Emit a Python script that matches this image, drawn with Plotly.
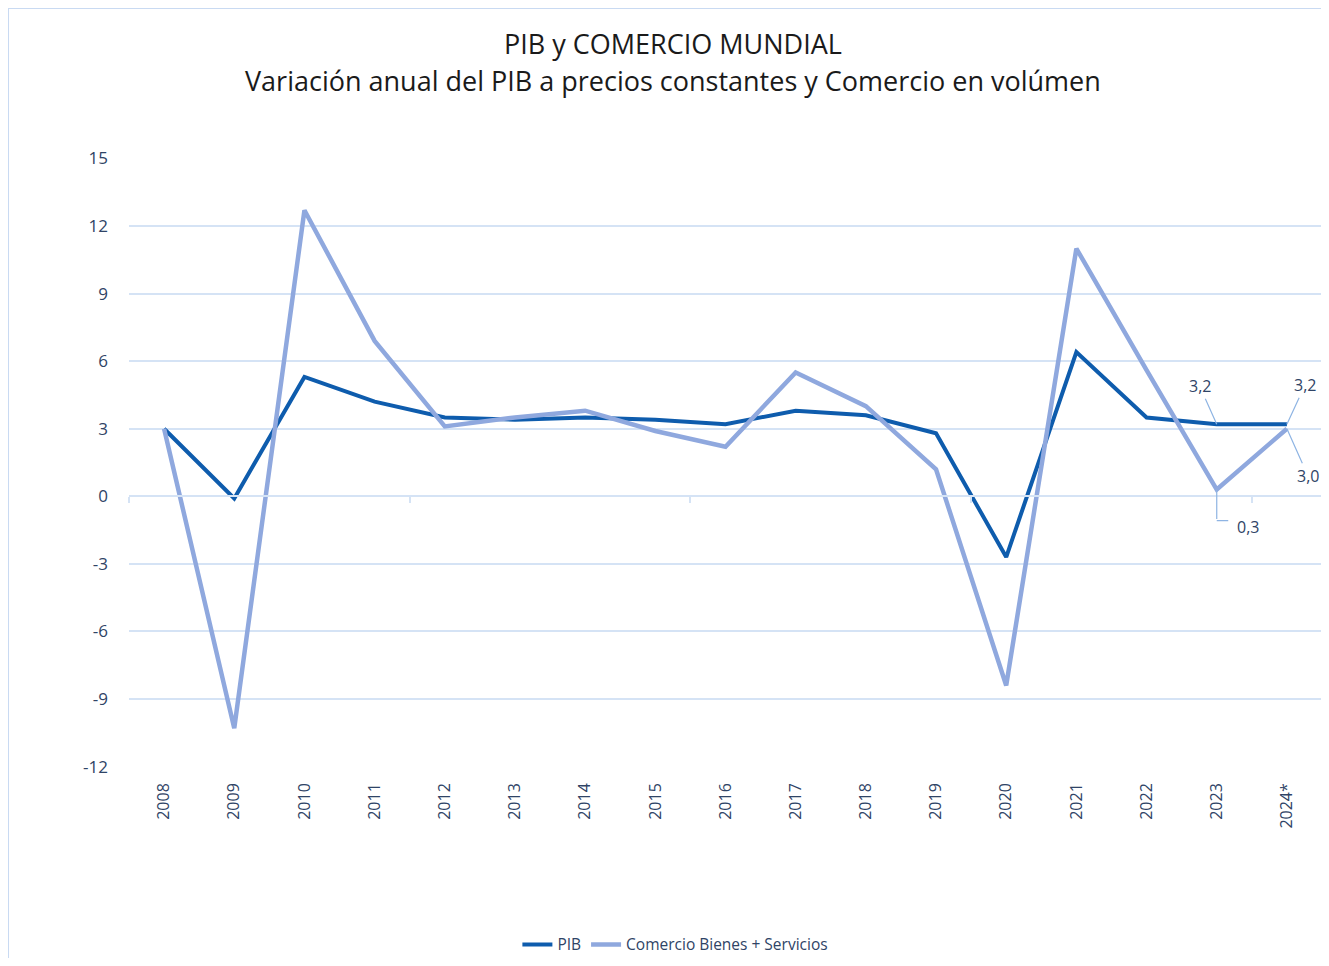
import plotly.graph_objects as go

years = ["2008", "2009", "2010", "2011", "2012", "2013", "2014", "2015", "2016",
         "2017", "2018", "2019", "2020", "2021", "2022", "2023", "2024*"]
pib = [3.0, -0.1, 5.3, 4.2, 3.5, 3.4, 3.5, 3.4, 3.2, 3.8, 3.6, 2.8, -2.7, 6.4, 3.5, 3.2, 3.2]
comercio = [3.0, -10.3, 12.7, 6.9, 3.1, 3.5, 3.8, 2.9, 2.2, 5.5, 4.0, 1.2, -8.4, 11.0, 5.6, 0.3, 3.0]
y_ticks = [15, 12, 9, 6, 3, 0, -3, -6, -9, -12]
y_tick_text = ["15", "12", "9", "6", "3", "0", "-3", "-6", "-9", "-12"]
zero_ticks = [-0.5, 3.5, 7.5, 11.5, 15.5]
title_1 = "PIB y COMERCIO MUNDIAL"
title_2 = "Variación anual del PIB a precios constantes y Comercio en volúmen"

PIB_COLOR = "#0E5CAD"
COM_COLOR = "#8FA8DE"
GRID = "#D5E3F5"
TXT = "#2F4466"
LEADER = "#8EB4E3"
FONT = "Open Sans, sans-serif"

fig = go.Figure()
# helper trace for the zero-line axis (invisible)
fig.add_trace(go.Scatter(x=[-0.5, 16.5], y=[None, None], xaxis="x2", showlegend=False,
                         hoverinfo="skip", mode="lines"))
fig.add_trace(go.Scatter(x=years, y=pib, mode="lines", name="PIB",
                         line=dict(color=PIB_COLOR, width=4)))
fig.add_trace(go.Scatter(x=years, y=comercio, mode="lines", name="Comercio Bienes + Servicios",
                         line=dict(color=COM_COLOR, width=4.5)))

ann_font = dict(family=FONT, size=16, color=TXT)
labels = [
    (15, pib[15], -17, -38),
    (16, pib[16], 18, -39),
    (16, comercio[16], 21, 47),
]
for xi, y, ax, ay in labels:
    fig.add_annotation(x=xi, y=y, ax=ax, ay=ay, text=f"{y:.1f}".replace(".", ","),
                       showarrow=True, arrowhead=0, arrowwidth=1.2, arrowcolor=LEADER,
                       font=ann_font, standoff=0, startstandoff=0)

# elbow leader for 2023 trade value
fig.add_annotation(x=15, y=comercio[15], ax=0, ay=31, text="", showarrow=True, arrowhead=0,
                   arrowwidth=1.2, arrowcolor=LEADER, standoff=0, startstandoff=0)
fig.add_annotation(x=15, y=comercio[15], yshift=-31, ax=13, ay=0, text="", showarrow=True,
                   arrowhead=0, arrowwidth=1.2, arrowcolor=LEADER, standoff=0, startstandoff=0)
fig.add_annotation(x=15, y=comercio[15], xshift=31, yshift=-37, showarrow=False,
                   text=f"{comercio[15]:.1f}".replace(".", ","), font=ann_font)

fig.add_annotation(text=title_1, xref="paper", yref="paper", x=0.456, y=1.1888,
                   xanchor="center", yanchor="middle", showarrow=False,
                   font=dict(family=FONT, size=27, color="#1a1a1a"))
fig.add_annotation(text=title_2, xref="paper", yref="paper", x=0.456, y=1.128,
                   xanchor="center", yanchor="middle", showarrow=False,
                   font=dict(family=FONT, size=27, color="#1a1a1a"))

fig.add_shape(type="rect", xref="paper", yref="paper",
              x0=-0.1014, x1=1.05, y0=-0.4, y1=1.2463,
              line=dict(color="#C9DAF2", width=2), layer="below")

fig.update_layout(
    width=1321, height=950,
    margin=dict(l=121, r=7, t=150, b=191, autoexpand=False),
    paper_bgcolor="white", plot_bgcolor="white",
    xaxis=dict(type="category", range=[-0.5, 16.5], showgrid=False, showline=False,
               ticks="", tickangle=-90, zeroline=False, ticklabelstandoff=12,
               tickfont=dict(family=FONT, size=16, color=TXT)),
    xaxis2=dict(overlaying="x", anchor="free", position=12 / 27, range=[-0.5, 16.5],
                showgrid=False, showline=True, linecolor=GRID, linewidth=2,
                tickvals=zero_ticks, ticks="outside", ticklen=6, tickcolor=GRID, tickwidth=2,
                showticklabels=False, zeroline=False),
    yaxis=dict(range=[-12.02, 15.02], tickvals=y_ticks, ticktext=y_tick_text,
               showgrid=True, gridcolor=GRID, gridwidth=2,
               zeroline=False, showline=False, ticks="", ticklabelstandoff=20,
               tickfont=dict(family=FONT, size=17, color=TXT)),
    legend=dict(orientation="h", x=0.458, xanchor="center", y=-0.292, yanchor="middle",
                font=dict(family=FONT, size=15.5, color=TXT)),
    showlegend=True,
)

fig.write_html("out.html")
